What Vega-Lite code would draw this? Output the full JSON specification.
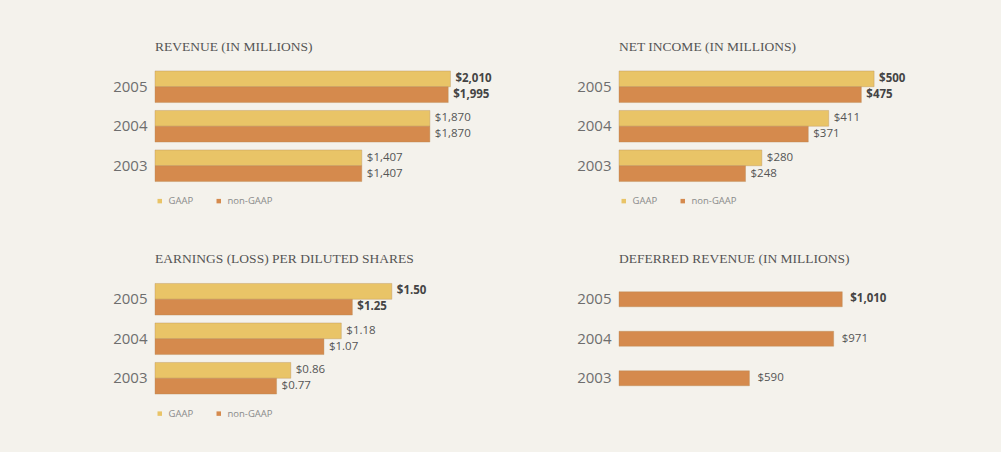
{
  "$schema": "https://vega.github.io/schema/vega-lite/v6.json",
  "background": "#f4f2ec",
  "padding": {"left": 112, "top": 39, "right": 82, "bottom": 33},
  "bounds": "flush",
  "columns": 2,
  "spacing": {"row": 93.5, "column": 164},
  "resolve": {"scale": {"color": "independent"}, "legend": {"color": "independent"}},
  "config": {
    "view": {"stroke": null},
    "title": {"font": "Liberation Serif", "fontSize": 13.5, "fontWeight": "normal", "color": "#555555", "anchor": "start", "frame": "group", "offset": 14, "letterSpacing": 0.8},
    "axisY": {"domain": false, "ticks": false, "grid": false, "labelFont": "Open Sans", "labelFontSize": 15, "labelColor": "#6e6e6e", "labelPadding": 8, "title": null},
    "legend": {"orient": "none", "legendX": 0, "legendY": 129, "direction": "horizontal", "title": null, "symbolType": "square", "symbolSize": 20, "symbolStrokeWidth": 0, "labelFont": "Open Sans", "labelFontSize": 9.5, "labelColor": "#8a8a8a", "columnPadding": 20, "labelOffset": 4}
  },
  "datasets": {
    "revenue": [
      {"year": "2005", "type": "GAAP", "value": 2010},
      {"year": "2005", "type": "non-GAAP", "value": 1995},
      {"year": "2004", "type": "GAAP", "value": 1870},
      {"year": "2004", "type": "non-GAAP", "value": 1870},
      {"year": "2003", "type": "GAAP", "value": 1407},
      {"year": "2003", "type": "non-GAAP", "value": 1407}
    ],
    "netincome": [
      {"year": "2005", "type": "GAAP", "value": 500},
      {"year": "2005", "type": "non-GAAP", "value": 475},
      {"year": "2004", "type": "GAAP", "value": 411},
      {"year": "2004", "type": "non-GAAP", "value": 371},
      {"year": "2003", "type": "GAAP", "value": 280},
      {"year": "2003", "type": "non-GAAP", "value": 248}
    ],
    "eps": [
      {"year": "2005", "type": "GAAP", "value": 1.50},
      {"year": "2005", "type": "non-GAAP", "value": 1.25},
      {"year": "2004", "type": "GAAP", "value": 1.18},
      {"year": "2004", "type": "non-GAAP", "value": 1.07},
      {"year": "2003", "type": "GAAP", "value": 0.86},
      {"year": "2003", "type": "non-GAAP", "value": 0.77}
    ],
    "deferred": [
      {"year": "2005", "value": 1010},
      {"year": "2004", "value": 971},
      {"year": "2003", "value": 590}
    ]
  },
  "concat": [
    {
      "data": {"name": "revenue"},
      "width": 300, "height": 118.5,
      "title": {"text": "REVENUE (IN MILLIONS)"},
      "encoding": {
        "y": {"field": "year", "type": "nominal", "sort": "descending", "scale": {"paddingInner": 0.2, "paddingOuter": 0.1}},
        "yOffset": {"field": "type", "sort": ["GAAP", "non-GAAP"], "scale": {"paddingInner": 0, "paddingOuter": 0}},
        "x": {"field": "value", "type": "quantitative", "scale": {"domain": [0, 2041]}, "axis": null}
      },
      "layer": [
        {"mark": {"type": "bar", "stroke": "#b48a55", "strokeWidth": 0.6, "strokeOpacity": 0.6},
         "encoding": {"color": {"field": "type", "type": "nominal", "scale": {"domain": ["GAAP", "non-GAAP"], "range": ["#e9c467", "#d58a4d"]}}}},
        {"transform": [{"filter": "datum.year != '2005'"}],
         "mark": {"type": "text", "align": "left", "dx": 5, "font": "Open Sans", "fontSize": 11.5, "color": "#555555"},
         "encoding": {"text": {"field": "value", "type": "quantitative", "format": "$,.0f"}}},
        {"transform": [{"filter": "datum.year == '2005'"}],
         "mark": {"type": "text", "align": "left", "dx": 5, "font": "Open Sans", "fontSize": 11.5, "fontWeight": "bold", "color": "#444444"},
         "encoding": {"text": {"field": "value", "type": "quantitative", "format": "$,.0f"}}}
      ]
    },
    {
      "data": {"name": "netincome"},
      "width": 300, "height": 118.5,
      "title": {"text": "NET INCOME (IN MILLIONS)"},
      "encoding": {
        "y": {"field": "year", "type": "nominal", "sort": "descending", "scale": {"paddingInner": 0.2, "paddingOuter": 0.1}},
        "yOffset": {"field": "type", "sort": ["GAAP", "non-GAAP"], "scale": {"paddingInner": 0, "paddingOuter": 0}},
        "x": {"field": "value", "type": "quantitative", "scale": {"domain": [0, 588]}, "axis": null}
      },
      "layer": [
        {"mark": {"type": "bar", "stroke": "#b48a55", "strokeWidth": 0.6, "strokeOpacity": 0.6},
         "encoding": {"color": {"field": "type", "type": "nominal", "scale": {"domain": ["GAAP", "non-GAAP"], "range": ["#e9c467", "#d58a4d"]}}}},
        {"transform": [{"filter": "datum.year != '2005'"}],
         "mark": {"type": "text", "align": "left", "dx": 5, "font": "Open Sans", "fontSize": 11.5, "color": "#555555"},
         "encoding": {"text": {"field": "value", "type": "quantitative", "format": "$,.0f"}}},
        {"transform": [{"filter": "datum.year == '2005'"}],
         "mark": {"type": "text", "align": "left", "dx": 5, "font": "Open Sans", "fontSize": 11.5, "fontWeight": "bold", "color": "#444444"},
         "encoding": {"text": {"field": "value", "type": "quantitative", "format": "$,.0f"}}}
      ]
    },
    {
      "data": {"name": "eps"},
      "width": 300, "height": 118.5,
      "title": {"text": "EARNINGS (LOSS) PER DILUTED SHARES"},
      "encoding": {
        "y": {"field": "year", "type": "nominal", "sort": "descending", "scale": {"paddingInner": 0.2, "paddingOuter": 0.1}},
        "yOffset": {"field": "type", "sort": ["GAAP", "non-GAAP"], "scale": {"paddingInner": 0, "paddingOuter": 0}},
        "x": {"field": "value", "type": "quantitative", "scale": {"domain": [0, 1.9]}, "axis": null}
      },
      "layer": [
        {"mark": {"type": "bar", "stroke": "#b48a55", "strokeWidth": 0.6, "strokeOpacity": 0.6},
         "encoding": {"color": {"field": "type", "type": "nominal", "scale": {"domain": ["GAAP", "non-GAAP"], "range": ["#e9c467", "#d58a4d"]}}}},
        {"transform": [{"filter": "datum.year != '2005'"}],
         "mark": {"type": "text", "align": "left", "dx": 5, "font": "Open Sans", "fontSize": 11.5, "color": "#555555"},
         "encoding": {"text": {"field": "value", "type": "quantitative", "format": "$.2f"}}},
        {"transform": [{"filter": "datum.year == '2005'"}],
         "mark": {"type": "text", "align": "left", "dx": 5, "font": "Open Sans", "fontSize": 11.5, "fontWeight": "bold", "color": "#444444"},
         "encoding": {"text": {"field": "value", "type": "quantitative", "format": "$.2f"}}}
      ]
    },
    {
      "data": {"name": "deferred"},
      "width": 300, "height": 118.5,
      "title": {"text": "DEFERRED REVENUE (IN MILLIONS)"},
      "encoding": {
        "y": {"field": "year", "type": "nominal", "sort": "descending", "scale": {"paddingInner": 0.2, "paddingOuter": 0.1}},
        "x": {"field": "value", "type": "quantitative", "scale": {"domain": [0, 1357]}, "axis": null}
      },
      "layer": [
        {"mark": {"type": "bar", "size": 15, "color": "#d58a4d", "stroke": "#b48a55", "strokeWidth": 0.6, "strokeOpacity": 0.6}},
        {"transform": [{"filter": "datum.year != '2005'"}],
         "mark": {"type": "text", "align": "left", "dx": 8, "font": "Open Sans", "fontSize": 11.5, "color": "#555555"},
         "encoding": {"text": {"field": "value", "type": "quantitative", "format": "$,.0f"}}},
        {"transform": [{"filter": "datum.year == '2005'"}],
         "mark": {"type": "text", "align": "left", "dx": 8, "font": "Open Sans", "fontSize": 11.5, "fontWeight": "bold", "color": "#444444"},
         "encoding": {"text": {"field": "value", "type": "quantitative", "format": "$,.0f"}}}
      ]
    }
  ]
}
